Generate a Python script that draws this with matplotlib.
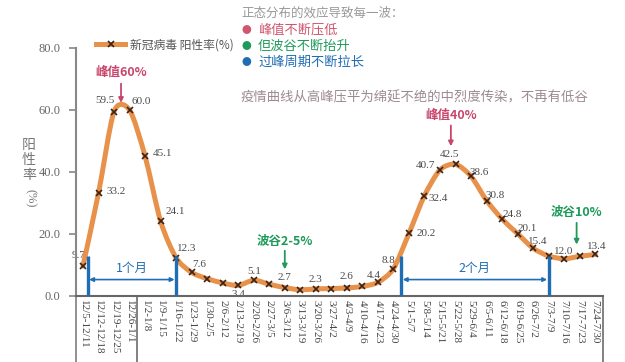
import numpy as np
import matplotlib.pyplot as plt
from matplotlib.path import Path
from matplotlib.patches import PathPatch

plt.rcParams['font.family'] = ['Noto Sans CJK SC', 'DejaVu Sans']

weeks = ["12/5-12/11", "12/12-12/18", "12/19-12/25", "12/26-1/1", "1/2-1/8",
         "1/9-1/15", "1/16-1/22", "1/23-1/29", "1/30-2/5", "2/6-2/12",
         "2/13-2/19", "2/20-2/26", "2/27-3/5", "3/6-3/12", "3/13-3/19",
         "3/20-3/26", "3/27-4/2", "4/3-4/9", "4/10-4/16", "4/17-4/23",
         "4/24-4/30", "5/1-5/7", "5/8-5/14", "5/15-5/21", "5/22-5/28",
         "5/29-6/4", "6/5-6/11", "6/12-6/18", "6/19-6/25", "6/26-7/2",
         "7/3-7/9", "7/10-7/16", "7/17-7/23", "7/24-7/30"]
rate = [9.7, 33.2, 59.5, 60.0, 45.1, 24.1, 12.3, 7.6, 5.6, 4.2,
        3.4, 5.1, 3.8, 2.7, 2.0, 2.3, 2.4, 2.6, 3.1, 4.4,
        8.8, 20.2, 32.4, 40.7, 42.5, 38.6, 30.8, 24.8, 20.1, 15.4,
        12.9, 12.0, 12.8, 13.4]
# which points get a value label, and where (offset in pixels)
lab_idx = [0, 1, 2, 3, 4, 5, 6, 7, 10, 11, 13, 15, 17, 19, 20, 21, 22,
           23, 24, 25, 26, 27, 28, 29, 31, 33]
lab_off = [(-4, 10), (18, 2), (-9, 11), (12, 9), (17, 3), (15, 10), (11, 9),
           (8, 8), (0, -9), (1, 9), (0, 10), (0, 9), (0, 11), (-4, 7), (-5, 8),
           (17, 0), (14, -3), (-15, 4), (-6, 10), (8, 4), (9, 5), (10, 5),
           (10, 5), (5, 7), (-1, 7), (1, 8)]

orange = '#E8914A'
blue = '#1F6DB4'
green = '#1E9A5A'
pink = '#C8466C'

fig = plt.figure(figsize=(6.25, 3.62), dpi=100)
ax = fig.add_axes([76/625, 1-296/362, (603-76)/625, (296-48)/362])

x = np.arange(len(rate))
y = np.array(rate)

# smooth curve through the points (catmull-rom as bezier segments)
k = 0.8 / 6
verts = [(x[0], y[0])]
codes = [Path.MOVETO]
n = len(x)
for i in range(n-1):
    p0 = np.array([x[max(i-1, 0)], y[max(i-1, 0)]])
    p1 = np.array([x[i], y[i]])
    p2 = np.array([x[i+1], y[i+1]])
    p3 = np.array([x[min(i+2, n-1)], y[min(i+2, n-1)]])
    c1 = p1 + (p2 - p0) * k
    c2 = p2 - (p3 - p1) * k
    verts += [tuple(c1), tuple(c2), tuple(p2)]
    codes += [Path.CURVE4] * 3
ax.add_patch(PathPatch(Path(verts, codes), facecolor='none', edgecolor=orange,
                       lw=3.6, capstyle='round', zorder=3))
ax.plot(x, y, ls='none', marker='x', color='#3a2418', ms=4.5, mew=1.2, zorder=4)
ax.plot([], [], color=orange, lw=3.6, marker='x', mec='#3a2418', ms=4.5,
        mew=1.2, label='新冠病毒 阳性率(%)')

for i, (dx, dy) in zip(lab_idx, lab_off):
    ax.annotate(f"{rate[i]:.1f}", (x[i], y[i]), xytext=(dx, dy),
                textcoords='offset pixels', ha='center', va='center',
                fontsize=8, color='#4a4a4a', family='Liberation Serif', zorder=2)

ax.set_xlim(-0.45, 33.5)
ax.set_ylim(0, 80)
ax.set_yticks([0, 20, 40, 60, 80])
ax.set_yticklabels(['0.0', '20.0', '40.0', '60.0', '80.0'],
                   family='Liberation Serif', fontsize=9, color='#666')
ax.set_xticks(x)
ax.set_xticklabels(weeks, rotation=-90, family='Liberation Serif',
                   fontsize=8, color='#444')
ax.tick_params(axis='x', length=0, pad=3)
ax.tick_params(axis='y', length=5, width=1.2, color='#888', pad=6)
for s in ['top', 'right']:
    ax.spines[s].set_visible(False)
ax.spines['left'].set_color('#888')
ax.spines['left'].set_linewidth(1.5)
ax.spines['bottom'].set_color('#666')
ax.spines['bottom'].set_linewidth(1.5)

# box lines around the week labels
for xv in [-0.45, 3.5, 33.5]:
    ax.axvline(xv, ymin=-0.27, ymax=0, clip_on=False,
               color='#777' if xv != -0.45 else '#888', lw=1.3)

# y label: stacked characters plus rotated (%)
fig.text(29/625, 1-160/362, '阳\n性\n率', ha='center', va='center',
         fontsize=10, color='#777', linespacing=1.1)
fig.text(30/625, 1-198/362, '(%)', ha='center', va='center', rotation=-90,
         fontsize=9, color='#777', family='Liberation Serif')

# legend
fig.legend(loc='center left', bbox_to_anchor=(90/625, 1-45/362), frameon=False,
           fontsize=8.5, handlelength=2.5, handletextpad=0.4, borderpad=0,
           labelcolor='#555')

# blue period brackets
for x0, x1, txt in [(0.3, 6, '1个月'), (20.5, 30, '2个月')]:
    for xv in (x0, x1):
        ax.plot([xv, xv], [0, 13], color=blue, lw=2.4, zorder=5,
                solid_capstyle='butt')
    ax.annotate('', xy=(x0 + 0.1, 5.3), xytext=(x1 - 0.1, 5.3),
                arrowprops=dict(arrowstyle='<|-|>', color=blue, lw=1.2,
                                mutation_scale=6, shrinkA=0, shrinkB=0))
    ax.text((x0 + x1) / 2, 9, txt, ha='center', va='center', color=blue,
            fontsize=9)

# peak / valley callouts
callouts = [('峰值60%', 2.45, 72.3, 62.3, 68.5, pink),
            ('峰值40%', 23.7, 58.4, 48.3, 55.0, pink),
            ('波谷2-5%', 13.0, 17.7, 8.6, 14.6, green),
            ('波谷10%', 31.8, 26.8, 16.6, 23.6, green)]
for txt, xv, ty, tip, tail, col in callouts:
    ax.text(xv, ty, txt, ha='center', va='center', color=col, fontsize=9,
            fontweight='bold')
    ax.annotate('', xy=(xv, tip), xytext=(xv, tail),
                arrowprops=dict(arrowstyle='-|>', color=col, lw=1.3,
                                mutation_scale=7, shrinkA=0, shrinkB=0))

# explanation block
fig.text(241/625, 1-13/362, '正态分布的效应导致每一波：', ha='left',
         va='center', fontsize=9, color='#999')
for yy, col, txt in [(30, '#D0566E', '峰值不断压低'),
                     (46, green, '但波谷不断抬升'),
                     (62, blue, '过峰周期不断拉长')]:
    fig.text(246/625, 1-yy/362, '●', ha='center', va='center', fontsize=7,
             color=col)
    fig.text(258/625, 1-yy/362, txt, ha='left', va='center', fontsize=9.5,
             color=col)
fig.text(241/625, 1-97/362, '疫情曲线从高峰压平为绵延不绝的中烈度传染，不再有低谷',
         ha='left', va='center', fontsize=9.6, color='#9c8a92')

fig.savefig('out.png', dpi=100, facecolor='white')
